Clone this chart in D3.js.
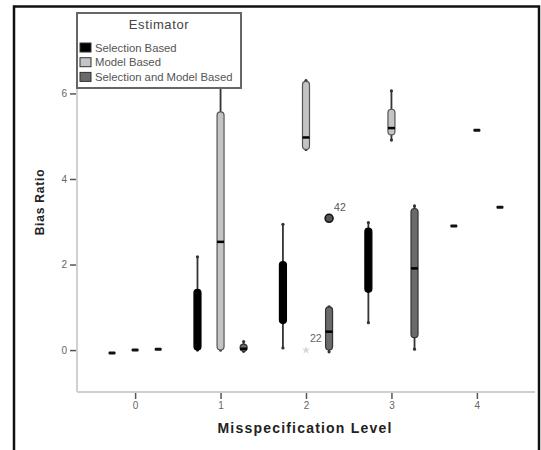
<!DOCTYPE html>
<html>
<head>
<meta charset="utf-8">
<script src="https://cdn.jsdelivr.net/npm/d3@7"></script>
<style>
  body { margin: 0; background: #fff; }
  text { font-family: Arial, "Liberation Sans", sans-serif; }
</style>
</head>
<body>
<div id="vis"></div>
<script>
// Data: five-number summaries per misspecification level
const levels = [0, 1, 2, 3, 4];
const estimators = ['Selection Based', 'Model Based', 'Selection and Model Based'];

// [min, q1, median, q3, max] per level
const selection_based = [
    [-0.07, -0.07, -0.07, -0.07, -0.07],
    [0, 0, 0.05, 1.42, 2.18],
    [0.05, 0.62, 1.3, 2.07, 2.94],
    [0.64, 1.35, 2.1, 2.85, 2.98],
    [2.9, 2.9, 2.9, 2.9, 2.9]
];
const model_based = [
    [0, 0, 0, 0, 0],
    [0, 0, 2.53, 5.57, 6.6],
    [4.69, 4.69, 4.97, 6.28, 6.3],
    [4.91, 5.03, 5.19, 5.63, 6.06],
    [5.14, 5.14, 5.14, 5.14, 5.14]
];
const selection_model_based = [
    [0.02, 0.02, 0.02, 0.02, 0.02],
    [-0.03, -0.03, 0.03, 0.14, 0.2],
    [-0.04, 0, 0.43, 1.01, 1.01],
    [0.02, 0.29, 1.91, 3.31, 3.37],
    [3.34, 3.34, 3.34, 3.34, 3.34]
];
const series = [selection_based, model_based, selection_model_based];

// outliers: [estimator index, level, value, case label, symbol]
const outliers = [
    [1, 2, 0, '22', 'star'],
    [2, 2, 3.08, '42', 'circle']
];

const y_ticks = [0, 2, 4, 6];

// canvas
const width = 541;
const height = 450;

const svg = d3.select('#vis').append('svg')
    .attr('width', width)
    .attr('height', height);

const fills = ['#000000', '#c4c4c4', '#6a6a6a'];
const strokes = ['#000000', '#555555', '#333333'];

const x = d3.scaleLinear().domain([-0.68, 4.68]).range([77, 535]);
const y = d3.scaleLinear().domain([-0.98, 7.88]).range([392, 13]);
const offset = [-0.27, 0, 0.27];
const boxW = 7;

// axis lines
svg.append('line')
    .attr('x1', 77).attr('x2', 535)
    .attr('y1', 392).attr('y2', 392)
    .attr('stroke', '#d0d0d0').attr('stroke-width', 2);
svg.append('line')
    .attr('x1', 77).attr('x2', 77)
    .attr('y1', 392).attr('y2', 20)
    .attr('stroke', '#d0d0d0').attr('stroke-width', 2);

const xAxis = svg.append('g')
    .attr('transform', 'translate(0,393)')
    .call(d3.axisBottom(x).tickValues(levels).tickFormat(d3.format('d')).tickSize(6).tickPadding(3));
xAxis.select('.domain').remove();
xAxis.selectAll('.tick line').attr('stroke', '#555').attr('stroke-width', 1.5);
xAxis.selectAll('.tick text').attr('fill', '#666').style('font-size', '10px');

const yAxis = svg.append('g')
    .attr('transform', 'translate(76,0)')
    .call(d3.axisLeft(y).tickValues(y_ticks).tickSize(6).tickPadding(3));
yAxis.select('.domain').remove();
yAxis.selectAll('.tick line').attr('stroke', '#555').attr('stroke-width', 1.5);
yAxis.selectAll('.tick text').attr('fill', '#666').style('font-size', '10px');

// boxes
series.forEach((s, i) => {
    const g = svg.append('g');
    s.forEach((d, j) => {
        const cx = x(levels[j] + offset[i]);
        const [mn, q1, md, q3, mx] = d;
        if (mx > mn) {
            g.append('line')
                .attr('x1', cx).attr('x2', cx)
                .attr('y1', y(mx)).attr('y2', y(mn))
                .attr('stroke', '#333').attr('stroke-width', 1.8);
            [mn, mx].forEach(v => g.append('circle')
                .attr('cx', cx).attr('cy', y(v)).attr('r', 1.6)
                .attr('fill', '#333'));
        }
        const h = Math.max(y(q1) - y(q3), 3);
        g.append('rect')
            .attr('x', cx - boxW / 2)
            .attr('y', q3 > q1 ? y(q3) : y(md) - 1.5)
            .attr('width', boxW)
            .attr('height', h)
            .attr('rx', q3 > q1 ? 3.5 : 1)
            .attr('fill', q3 > q1 ? fills[i] : '#111')
            .attr('stroke', q3 > q1 ? strokes[i] : 'none')
            .attr('stroke-width', 1.2);
        if (q3 > q1) {
            g.append('line')
                .attr('x1', cx - boxW / 2).attr('x2', cx + boxW / 2)
                .attr('y1', y(md)).attr('y2', y(md))
                .attr('stroke', '#000').attr('stroke-width', 2.5);
        }
    });
});

// outliers
outliers.forEach(o => {
    const cx = x(o[1] + offset[o[0]]);
    const cy = y(o[2]);
    if (o[4] === 'circle') {
        svg.append('circle')
            .attr('cx', cx).attr('cy', cy).attr('r', 4)
            .attr('fill', '#555').attr('stroke', '#111').attr('stroke-width', 1.5);
        svg.append('text')
            .attr('x', cx + 5).attr('y', cy - 7)
            .attr('fill', '#555').style('font-size', '10.5px')
            .text(o[3]);
    } else {
        svg.append('path')
            .attr('d', d3.symbol(d3.symbolStar, 22)())
            .attr('transform', `translate(${cx},${cy})`)
            .attr('fill', '#d8d8d8');
        svg.append('text')
            .attr('x', cx + 4).attr('y', cy - 8)
            .attr('fill', '#666').style('font-size', '10.5px')
            .text(o[3]);
    }
});

// axis titles
svg.append('text')
    .attr('x', 305).attr('y', 433)
    .attr('text-anchor', 'middle')
    .attr('fill', '#222')
    .style('font-size', '14px').style('font-weight', 'bold').style('letter-spacing', '1.2px')
    .text('Misspecification Level');

svg.append('text')
    .attr('transform', 'translate(44,202) rotate(-90)')
    .attr('text-anchor', 'middle')
    .attr('fill', '#222')
    .style('font-size', '12px').style('font-weight', 'bold').style('letter-spacing', '0.8px')
    .text('Bias Ratio');

// legend
const legend = svg.append('g');
legend.append('rect')
    .attr('x', 77).attr('y', 13)
    .attr('width', 164).attr('height', 75)
    .attr('fill', '#fff').attr('stroke', '#666').attr('stroke-width', 2);
legend.append('text')
    .attr('x', 159).attr('y', 29)
    .attr('text-anchor', 'middle').attr('fill', '#444')
    .style('font-size', '13px').style('letter-spacing', '0.6px')
    .text('Estimator');
estimators.forEach((e, i) => {
    legend.append('rect')
        .attr('x', 80).attr('y', 43 + i * 14.7)
        .attr('width', 11).attr('height', 9)
        .attr('fill', fills[i]).attr('stroke', '#333').attr('stroke-width', 1);
    legend.append('text')
        .attr('x', 95).attr('y', 51.5 + i * 14.7)
        .attr('fill', '#555')
        .style('font-size', '11.3px')
        .text(e);
});

// outer frame
svg.append('rect')
    .attr('x', 14).attr('y', 6.5)
    .attr('width', 525).attr('height', 460)
    .attr('fill', 'none').attr('stroke', '#111').attr('stroke-width', 2.5);
</script>
</body>
</html>
